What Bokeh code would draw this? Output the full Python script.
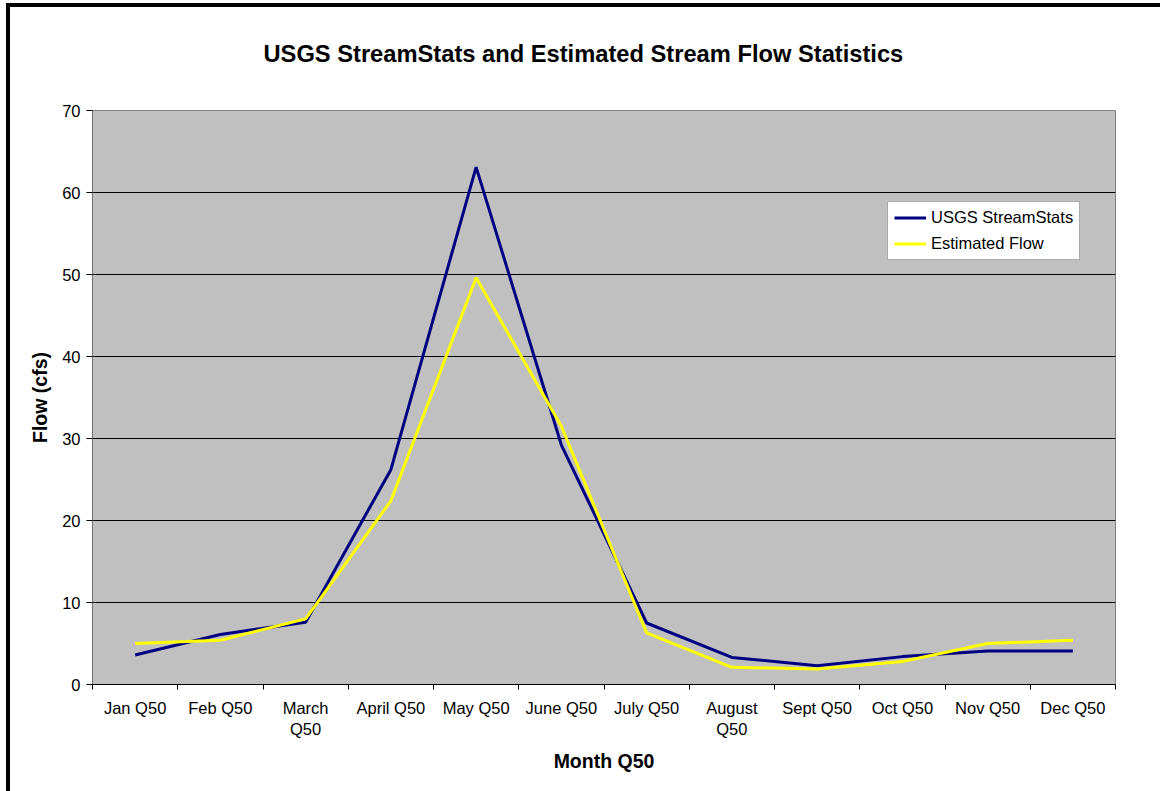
from bokeh.plotting import figure
from bokeh.models import FixedTicker, Legend, LegendItem, Range1d, Title
from bokeh.embed import file_html
from bokeh.resources import INLINE

months = ["Jan Q50", "Feb Q50", "March\nQ50", "April Q50", "May Q50", "June Q50",
          "July Q50", "August\nQ50", "Sept Q50", "Oct Q50", "Nov Q50", "Dec Q50"]
usgs = [3.6, 6.1, 7.6, 26.2, 63.1, 29.2, 7.5, 3.3, 2.3, 3.4, 4.1, 4.1]
estimated = [5.0, 5.4, 8.0, 22.4, 49.6, 31.5, 6.3, 2.1, 1.9, 2.8, 5.0, 5.4]
y_ticks = [0, 10, 20, 30, 40, 50, 60, 70]

FONT = "Liberation Sans"
xs = [i + 0.5 for i in range(len(months))]

p = figure(width=1150, height=784, output_backend="svg", toolbar_location=None,
           x_range=Range1d(0, len(months)), y_range=Range1d(0, 70),
           min_border_left=82, min_border_right=45, min_border_top=103,
           min_border_bottom=107)
p.styles = {"position": "absolute", "left": "10px", "top": "7px",
            "outline": "4px solid black"}

# spacer between the frame and the title
p.add_layout(Title(text=" ", text_font_size="16px", standoff=20), "above")

p.title.text = "USGS StreamStats and Estimated Stream Flow Statistics"
p.title.align = "left"
p.title.offset = 171
p.title.standoff = 10
p.title.text_font = FONT
p.title.text_font_style = "bold"
p.title.text_font_size = "23.7px"
p.title.text_color = "black"

p.background_fill_color = "#C0C0C0"
p.border_fill_color = "white"
p.outline_line_color = "#808080"
p.outline_line_width = 1

# y axis
p.yaxis.ticker = FixedTicker(ticks=y_ticks)
p.yaxis.axis_line_color = "#707070"
p.yaxis.major_tick_line_color = "black"
p.yaxis.major_tick_out = 6
p.yaxis.major_tick_in = 0
p.yaxis.minor_tick_line_color = None
p.yaxis.major_label_text_font = FONT
p.yaxis.major_label_text_font_size = "16.5px"
p.yaxis.major_label_text_color = "black"
p.yaxis.major_label_standoff = 6
p.yaxis.axis_label = "Flow (cfs)"
p.yaxis.axis_label_text_font = FONT
p.yaxis.axis_label_text_font_style = "bold"
p.yaxis.axis_label_text_font_size = "19.5px"
p.yaxis.axis_label_text_color = "black"
p.yaxis.axis_label_standoff = 8

# x axis: labels at category centres, ticks at boundaries
p.xaxis.ticker = FixedTicker(ticks=xs, minor_ticks=list(range(len(months) + 1)))
p.xaxis.major_label_overrides = {x: m for x, m in zip(xs, months)}
p.xaxis.major_tick_line_color = None
p.xaxis.major_tick_out = 5
p.xaxis.major_tick_in = 0
p.xaxis.minor_tick_line_color = "black"
p.xaxis.minor_tick_out = 5
p.xaxis.minor_tick_in = 0
p.xaxis.axis_line_color = "black"
p.xaxis.major_label_text_font = FONT
p.xaxis.major_label_text_font_size = "16.5px"
p.xaxis.major_label_text_color = "black"
p.xaxis.major_label_standoff = 9
p.xaxis.axis_label = "Month Q50"
p.xaxis.axis_label_text_font = FONT
p.xaxis.axis_label_text_font_style = "bold"
p.xaxis.axis_label_text_font_size = "19.5px"
p.xaxis.axis_label_text_color = "black"
p.xaxis.axis_label_standoff = 9

p.xgrid.grid_line_color = None
p.ygrid.ticker = FixedTicker(ticks=y_ticks)
p.ygrid.grid_line_color = "black"
p.ygrid.grid_line_width = 1

r1 = p.line(xs, usgs, line_color="#000080", line_width=3)
r2 = p.line(xs, estimated, line_color="#FFFF00", line_width=3)

legend = Legend(items=[LegendItem(label="USGS StreamStats", renderers=[r1]),
                       LegendItem(label="Estimated Flow", renderers=[r2])],
                location=(795, 424), padding=6, spacing=7, margin=0,
                glyph_width=32, glyph_height=19, label_height=19,
                label_standoff=5, label_text_font=FONT,
                label_text_font_size="16.5px", label_text_color="black",
                border_line_color="#555555", border_line_width=1,
                background_fill_color="white", background_fill_alpha=1.0)
p.add_layout(legend, "center")

open("out.html", "w").write(file_html(p, INLINE))
